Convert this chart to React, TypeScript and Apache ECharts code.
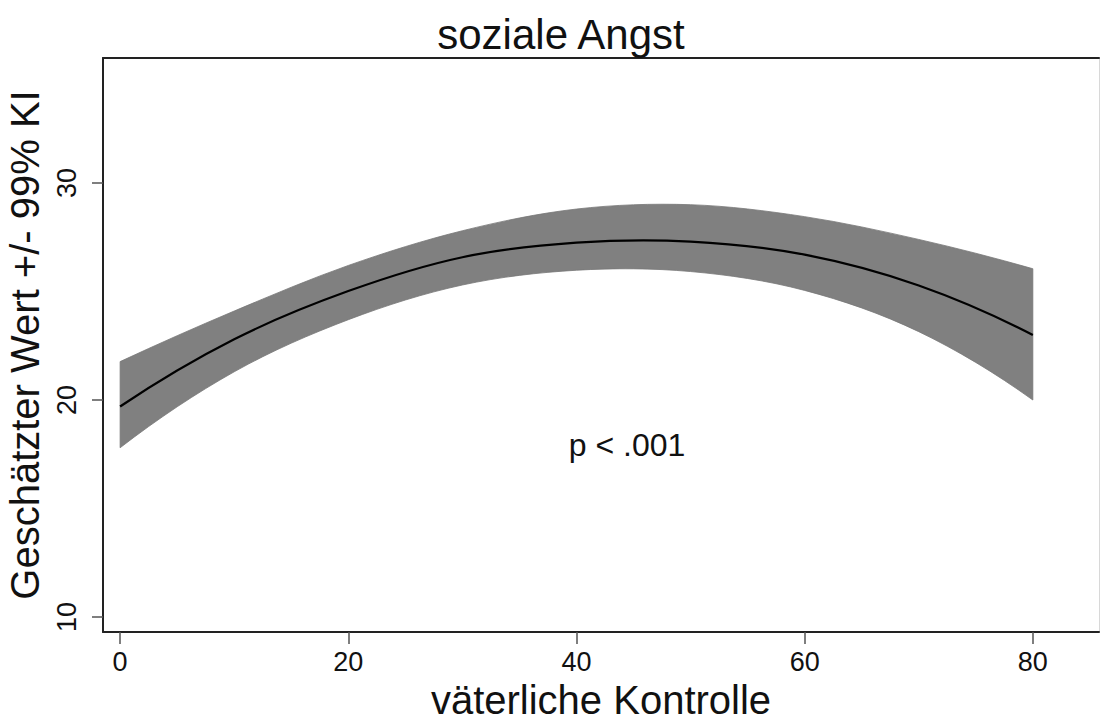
import React, { useEffect, useRef } from "react";
import * as echarts from "echarts";

const titleText = "soziale Angst";
const xAxisName = "väterliche Kontrolle";
const yAxisName = "Geschätzter Wert +/- 99% KI";
const annotationText = "p < .001";

const xTicks = [0, 20, 40, 60, 80];
const yTicks = [10, 20, 30];

const xValues = [0, 10, 20, 30, 40, 50, 60, 70, 80];
const meanValues = [19.7, 22.8, 25.02, 26.58, 27.25, 27.3, 26.7, 25.28, 23.0];
const upperValues = [21.77, 24.1, 26.2, 27.8, 28.8, 29.0, 28.45, 27.4, 26.05];
const lowerValues = [17.8, 21.3, 23.7, 25.3, 25.98, 25.92, 25.05, 23.15, 20.0];

const FONT = "'Liberation Sans', Arial, sans-serif";

type Pt = number[];

function phantom(a: Pt, b: Pt, c: Pt | undefined): Pt {
  if (!c) return [2 * a[0] - b[0], 2 * a[1] - b[1]];
  return [3 * a[0] - 3 * b[0] + c[0], 3 * a[1] - 3 * b[1] + c[1]];
}

function splinePath(pts: Pt[], move: boolean): string {
  const n = pts.length;
  const first = phantom(pts[0], pts[1], pts[2]);
  const last = phantom(pts[n - 1], pts[n - 2], pts[n - 3]);
  const ext = [first, ...pts, last];
  let d = move ? `M${pts[0][0]},${pts[0][1]}` : `L${pts[0][0]},${pts[0][1]}`;
  for (let i = 1; i < ext.length - 2; i++) {
    const p0 = ext[i - 1];
    const p1 = ext[i];
    const p2 = ext[i + 1];
    const p3 = ext[i + 2];
    const c1x = p1[0] + (p2[0] - p0[0]) / 6;
    const c1y = p1[1] + (p2[1] - p0[1]) / 6;
    const c2x = p2[0] - (p3[0] - p1[0]) / 6;
    const c2y = p2[1] - (p3[1] - p1[1]) / 6;
    d += ` C${c1x},${c1y} ${c2x},${c2y} ${p2[0]},${p2[1]}`;
  }
  return d;
}

export default function App() {
  const ref = useRef<HTMLDivElement>(null);

  useEffect(() => {
    if (!ref.current) return;
    const chart = echarts.init(ref.current, null, { renderer: "svg" });

    const rows = xValues.map((x, i) => [x, lowerValues[i], upperValues[i], meanValues[i]]);

    const xMin = -1.5;
    const xMax = 85.8;
    const yMin = 9.31;
    const yMax = 35.76;

    const renderBand = (params: any, api: any) => {
      if (params.dataIndex !== 0) return null;
      const up = xValues.map((x, i) => api.coord([x, upperValues[i]]));
      const lo = xValues.map((x, i) => api.coord([x, lowerValues[i]])).reverse();
      const d = splinePath(up, true) + " " + splinePath(lo, false) + " Z";
      return {
        type: "path",
        shape: { pathData: d },
        style: { fill: "#808080", stroke: "#777777", lineWidth: 0.8 },
      };
    };

    const renderMean = (params: any, api: any) => {
      if (params.dataIndex !== 0) return null;
      const pts = xValues.map((x, i) => api.coord([x, meanValues[i]]));
      return {
        type: "path",
        shape: { pathData: splinePath(pts, true) },
        style: { fill: "none", stroke: "#000000", lineWidth: 2.2 },
      };
    };

    chart.setOption({
      animation: false,
      backgroundColor: "#ffffff",
      textStyle: { fontFamily: FONT },
      title: {
        text: titleText,
        left: 556,
        top: 8,
        textAlign: "center",
        textStyle: { fontFamily: FONT, fontSize: 42, fontWeight: "normal", color: "#111" },
      },
      grid: {
        left: 103,
        top: 58,
        right: 2,
        bottom: 89,
        containLabel: false,
        outerBoundsMode: "none",
      },
      xAxis: [
        {
          type: "value",
          min: xMin,
          max: xMax,
          name: xAxisName,
          nameLocation: "middle",
          nameGap: 48,
          nameTextStyle: { fontFamily: FONT, fontSize: 40, color: "#111" },
          axisLine: { show: true, onZero: false, lineStyle: { color: "#222", width: 2 } },
          axisTick: {
            show: true,
            customValues: xTicks,
            length: 12,
            lineStyle: { color: "#555", width: 1.5 },
          },
          axisLabel: {
            customValues: xTicks,
            fontFamily: FONT,
            fontSize: 27,
            color: "#111",
            margin: 16,
          },
          splitLine: { show: false },
        },
        {
          type: "value",
          position: "top",
          min: xMin,
          max: xMax,
          axisLine: { show: true, onZero: false, lineStyle: { color: "#222", width: 2 } },
          axisTick: { show: false },
          axisLabel: { show: false },
          splitLine: { show: false },
        },
      ],
      yAxis: [
        {
          type: "value",
          min: yMin,
          max: yMax,
          name: yAxisName,
          nameLocation: "middle",
          nameRotate: 90,
          nameGap: 57,
          nameTextStyle: { fontFamily: FONT, fontSize: 40, color: "#111" },
          axisLine: { show: true, onZero: false, lineStyle: { color: "#222", width: 2 } },
          axisTick: {
            show: true,
            customValues: yTicks,
            length: 11,
            lineStyle: { color: "#555", width: 1.5 },
          },
          axisLabel: {
            customValues: yTicks,
            rotate: 90,
            fontFamily: FONT,
            fontSize: 27,
            color: "#111",
            margin: 23,
          },
          splitLine: { show: false },
        },
        {
          type: "value",
          position: "right",
          min: yMin,
          max: yMax,
          axisLine: { show: true, onZero: false, lineStyle: { color: "#d8d8d8", width: 1 } },
          axisTick: { show: false },
          axisLabel: { show: false },
          splitLine: { show: false },
        },
      ],
      graphic: [
        {
          type: "text",
          x: 627,
          y: 445,
          z: 100,
          style: {
            text: annotationText,
            fontFamily: FONT,
            fontSize: 32,
            fill: "#111",
            align: "center",
            verticalAlign: "middle",
          },
        },
      ],
      series: [
        {
          name: "band",
          type: "custom",
          data: rows,
          encode: { x: 0, y: [1, 2] },
          renderItem: renderBand,
          silent: true,
          z: 2,
        },
        {
          name: "mean",
          type: "custom",
          data: rows,
          encode: { x: 0, y: 3 },
          renderItem: renderMean,
          silent: true,
          z: 3,
        },
      ],
    });

    return () => chart.dispose();
  }, []);

  return (
    <div
      ref={ref}
      style={{ position: "absolute", left: 0, top: 0, width: 1101, height: 721 }}
    />
  );
}
